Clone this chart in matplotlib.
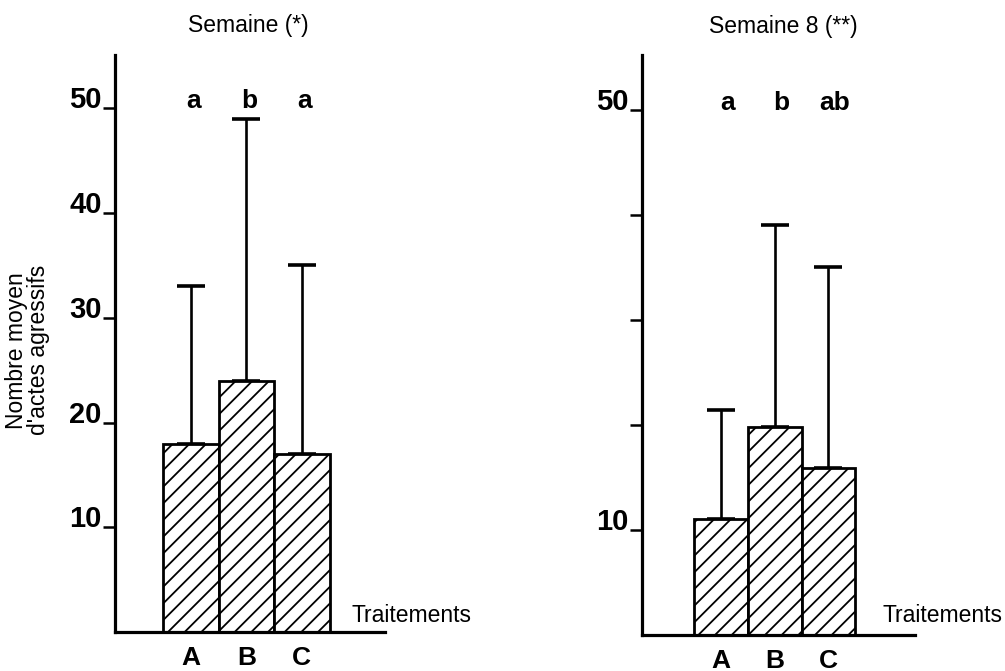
import matplotlib.pyplot as plt

# data
treatments = ["A", "B", "C"]
left_means = [18, 24, 17]
left_err = [15, 25, 18]
left_letters = ["a", "b", "a"]
right_means = [11, 19.8, 15.9]
right_err = [10.4, 19.2, 19.1]
right_letters = ["a", "b", "ab"]

plt.rcParams['hatch.linewidth'] = 1.3
plt.rcParams['font.family'] = ['Liberation Sans', 'DejaVu Sans']
bold_font = ['Liberation Sans Narrow', 'Liberation Sans', 'DejaVu Sans']

fig = plt.figure(figsize=(10.05, 6.71), dpi=100)
ax1 = fig.add_axes([0.1144, 0.0581, 0.2687, 0.860])
ax2 = fig.add_axes([0.6388, 0.0537, 0.2716, 0.864])


def draw_panel(ax, means, err, letters, xlim, ylim, ytick_labels, shift):
    x = list(range(len(means)))
    ax.bar(x, means, width=1.0, color="white", edgecolor="black",
           linewidth=2.0, hatch="//", zorder=2)
    ax.errorbar(x, means, yerr=[[0] * len(err), err], fmt="none",
                ecolor="black", elinewidth=1.9, capsize=10, capthick=2.6,
                zorder=1)
    for xi, letter in zip(x, letters):
        ax.text(xi + shift, 50, letter, ha="center", va="baseline", fontsize=19,
                fontweight="bold", family=bold_font)
    ax.set_xlim(*xlim)
    ax.set_ylim(*ylim)
    ax.set_xticks(x, treatments)
    ax.set_yticks([10, 20, 30, 40, 50], ytick_labels)
    for lab in ax.get_xticklabels() + ax.get_yticklabels():
        lab.set_fontsize(21)
        lab.set_fontweight("bold")
        lab.set_family(bold_font)
    for lab in ax.get_xticklabels():
        lab.set_fontsize(19)
    for lab in ax.get_yticklabels():
        lab.set_verticalalignment("baseline")
    ax.tick_params(axis="x", length=0, pad=10)
    ax.tick_params(axis="y", length=8.5, width=1.8, pad=1)
    for side in ["top", "right"]:
        ax.spines[side].set_visible(False)
    for side in ["left", "bottom"]:
        ax.spines[side].set_linewidth(2.3)


draw_panel(ax1, left_means, left_err, left_letters, (-1.37, 3.5), (0, 55.1),
           ["10", "20", "30", "40", "50"], 0.05)
draw_panel(ax2, right_means, right_err, right_letters, (-1.47, 3.61), (0, 55.2),
           ["10", "", "", "", "50"], 0.12)

ax1.text(2.9, 0.95, "Traitements", fontsize=16.5, ha="left", va="baseline",
         clip_on=False)
ax2.text(3.0, 1.24, "Traitements", fontsize=16.5, ha="left", va="baseline",
         clip_on=False)

fig.text(0.2468, 0.952, "Semaine (*)", fontsize=16.5, ha="center", va="baseline")
fig.text(0.779, 0.951, "Semaine 8 (**)", fontsize=16.5, ha="center", va="baseline")
fig.text(0.027, 0.478, "Nombre moyen\nd'actes agressifs", fontsize=16.5,
         rotation=90, ha="center", va="center", linespacing=0.95)

plt.savefig("out.png", dpi=100)
